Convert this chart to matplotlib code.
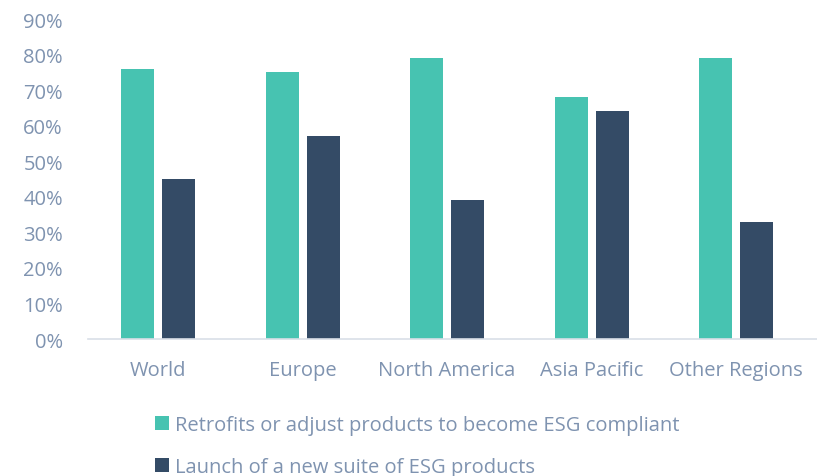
import numpy as np
import matplotlib.pyplot as plt
from matplotlib.ticker import PercentFormatter

# data
regions = ["World", "Europe", "North America", "Asia Pacific", "Other Regions"]
retrofit = [76, 75, 79, 68, 79]
new_suite = [45, 57, 39, 64, 33]
series_names = ["Retrofits or adjust products to become ESG compliant",
                "Launch of a new suite of ESG products"]

green = "#47C3B1"
navy = "#344B66"
txt = "#7F93B0"

plt.rcParams['font.family'] = ['Open Sans', 'DejaVu Sans']

fig = plt.figure(figsize=(8.17, 4.77), dpi=100)
ax = fig.add_axes([0.1077, 0.2872, 0.8923, 0.6708])

x = np.arange(len(regions))
w = 0.228
off = 0.142
b1 = ax.bar(x - off, retrofit, w, color=green, label=series_names[0])
b2 = ax.bar(x + off, new_suite, w, color=navy, label=series_names[1])

ax.set_xlim(-0.485, 4.56)
ax.set_ylim(0, 90)
ax.set_yticks(np.arange(0, 91, 10))
ax.yaxis.set_major_formatter(PercentFormatter(decimals=0))
ax.set_xticks(x)
ax.set_xticklabels(regions)
ax.tick_params(axis='both', length=0, colors=txt, labelsize=14.5)
ax.tick_params(axis='x', pad=15)
ax.tick_params(axis='y', pad=18)

for s in ['top', 'right', 'left']:
    ax.spines[s].set_visible(False)
ax.spines['bottom'].set_color("#D9DFE7")
ax.spines['bottom'].set_linewidth(1.2)

leg = fig.legend(handles=[b1, b2], loc='upper left', bbox_to_anchor=(0.18, 0.145),
                 frameon=False, fontsize=14.5, labelcolor=txt, handlelength=0.7,
                 handleheight=0.7, handletextpad=0.3, labelspacing=1.1,
                 borderaxespad=0)

fig.savefig('out.png', dpi=100)
